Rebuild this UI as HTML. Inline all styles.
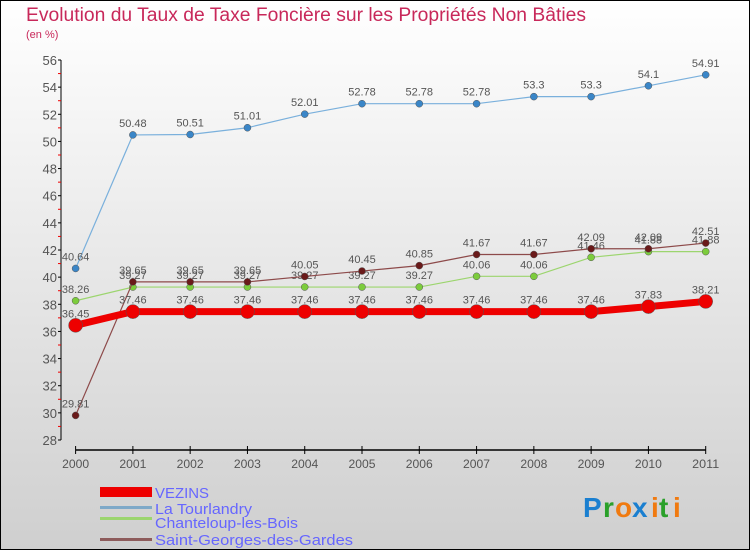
<!DOCTYPE html>
<html><head><meta charset="utf-8"><style>
html,body{margin:0;padding:0}
body{width:750px;height:550px;overflow:hidden;font-family:"Liberation Sans",sans-serif}
svg text{font-family:"Liberation Sans",sans-serif}
</style></head><body>
<svg id="chart" width="750" height="550" xmlns="http://www.w3.org/2000/svg">
<defs><linearGradient id="bg" x1="0" y1="0" x2="0" y2="1"><stop offset="0" stop-color="#ffffff"/><stop offset="1" stop-color="#cfcfcf"/></linearGradient></defs>
<rect x="0.5" y="0.5" width="749" height="549" fill="url(#bg)" stroke="#000"/>
<text x="26" y="21" font-size="19" fill="#c8285a" textLength="560" lengthAdjust="spacingAndGlyphs">Evolution du Taux de Taxe Foncière sur les Propriétés Non Bâties</text>
<text x="26" y="38" font-size="11" fill="#c8285a">(en %)</text>
<g id="axes"></g>
<g id="series"></g>
<g>
<rect x="100" y="487" width="52" height="10" fill="#ee0000"/>
<text x="155" y="498" font-size="15" fill="#6666ff" textLength="54" lengthAdjust="spacingAndGlyphs">VEZINS</text>
<rect x="100" y="506" width="52" height="3" fill="#7ea9c8"/>
<text x="155" y="514" font-size="15" fill="#6666ff" textLength="97" lengthAdjust="spacingAndGlyphs">La Tourlandry</text>
<rect x="100" y="517" width="52" height="3" fill="#9cd56e"/>
<text x="155" y="528" font-size="15" fill="#6666ff" textLength="143" lengthAdjust="spacingAndGlyphs">Chanteloup-les-Bois</text>
<rect x="100" y="538" width="52" height="3" fill="#8d5b5b"/>
<text x="155" y="545" font-size="15" fill="#6666ff" textLength="198" lengthAdjust="spacingAndGlyphs">Saint-Georges-des-Gardes</text>
</g>
<g font-size="28" font-weight="bold">
<text x="583" y="517" fill="#1a7fd0">P</text><text x="603" y="517" fill="#2aa02a">r</text><text x="615" y="517" fill="#f07a10">o</text><text x="632" y="517" fill="#1a7fd0">x</text><text x="651" y="517" fill="#f07a10">i</text><text x="659" y="517" fill="#2aa02a">t</text><text x="673" y="517" fill="#f07a10">i</text>
</g>
</svg>
<script>
const years=["2000","2001","2002","2003","2004","2005","2006","2007","2008","2009","2010","2011"];
const vezins=[36.45,37.46,37.46,37.46,37.46,37.46,37.46,37.46,37.46,37.46,37.83,38.21];
const tourlandry=[40.64,50.48,50.51,51.01,52.01,52.78,52.78,52.78,53.3,53.3,54.1,54.91];
const chanteloup=[38.26,39.27,39.27,39.27,39.27,39.27,39.27,40.06,40.06,41.46,41.88,41.88];
const saintGeorges=[29.81,39.65,39.65,39.65,40.05,40.45,40.85,41.67,41.67,42.09,42.09,42.51];
const yTicks=[28,30,32,34,36,38,40,42,44,46,48,50,52,54,56];
const NS="http://www.w3.org/2000/svg";
const x=i=>75.6+i*(705.7-75.6)/11;
const y=v=>440-(v-28)*(380/28);
function mk(tag,attrs,parent){const e=document.createElementNS(NS,tag);for(const k in attrs)e.setAttribute(k,attrs[k]);parent.appendChild(e);return e;}
const axes=document.getElementById('axes');
const ya=mk('line',{x1:61,y1:60,x2:61,y2:440,stroke:'#000'},axes);


yTicks.forEach((t,k)=>{
  mk('line',{x1:58,y1:y(t),x2:61,y2:y(t),stroke:'#000'},axes);
  if(k<yTicks.length-1) mk('line',{x1:58,y1:y(t+1),x2:61,y2:y(t+1),stroke:'#e00'},axes);
  const l=mk('text',{x:57,y:y(t)+5,'font-size':13,fill:'#555','text-anchor':'end'},axes);
  l.textContent=t;
  
  
});
const xa=mk('line',{x1:75.6,y1:450,x2:705.7,y2:450,stroke:'#000','stroke-width':1.5},axes);


years.forEach((yr,i)=>{
  mk('line',{x1:x(i),y1:446,x2:x(i),y2:454,stroke:'#000'},axes);
  const l=mk('text',{x:x(i),y:468,'font-size':12,fill:'#555','text-anchor':'middle',textLength:27,lengthAdjust:'spacingAndGlyphs'},axes);
  l.textContent=yr;
  
  
});
const ser=document.getElementById('series');
function draw(vals,color,dot,w,r,name){
  const g=mk('g',{},ser);
  
  
  const p=mk('polyline',{points:vals.map((v,i)=>x(i)+','+y(v)).join(' '),fill:'none',stroke:color,'stroke-width':w},g);
  
  
  vals.forEach((v,i)=>{
    const c=mk('circle',{cx:x(i),cy:y(v),r:r,fill:dot,stroke:'#555','stroke-width':0.5},g);
    
    
    const t=mk('text',{x:x(i),y:y(v)-8,'font-size':11,fill:'#555','text-anchor':'middle'},g);
    t.textContent=String(v);
    
    
  });
}
draw(tourlandry,'#7ab0dc','#3a86c8',1.2,3.5,'la-tourlandry');
draw(chanteloup,'#9cd56e','#7ccc3c',1.2,3.5,'chanteloup');
draw(saintGeorges,'#8d4a4a','#6a1a1a',1.2,3.5,'saint-georges');
draw(vezins,'#ee0000','#ee0000',7,7,'vezins');
</script>
</body></html>
